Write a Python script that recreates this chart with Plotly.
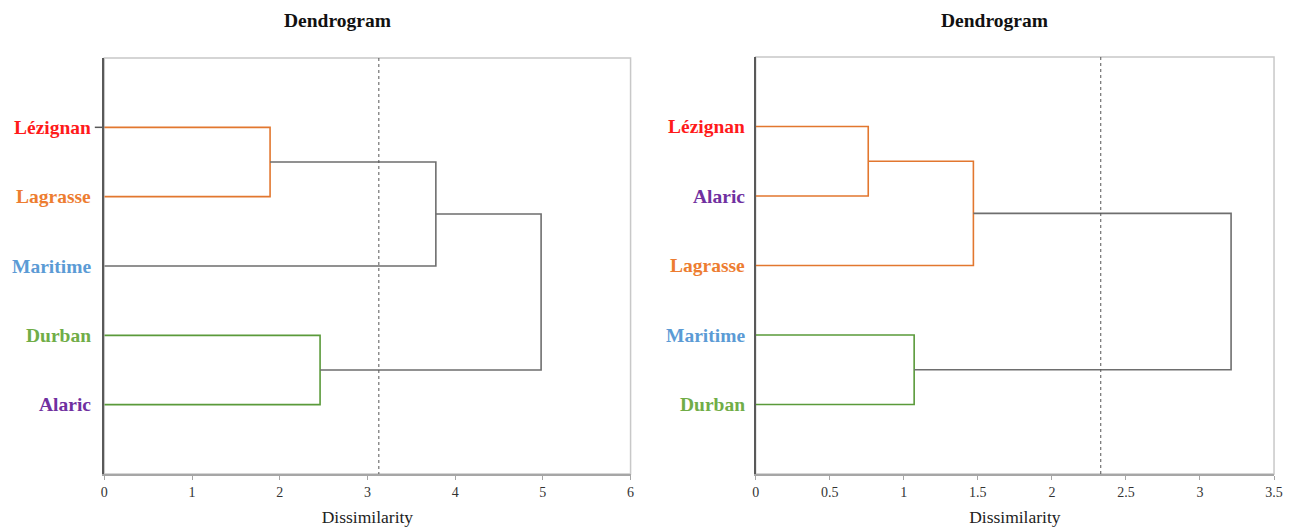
import plotly.graph_objects as go

# ---- data -------------------------------------------------------------
# Left dendrogram: leaf order (top to bottom) and merges (node_a, node_b, height, colour key)
left_leaves = ["Lézignan", "Lagrasse", "Maritime", "Durban", "Alaric"]
left_merges = [
    (0, 1, 1.89, "orange"),
    (3, 4, 2.46, "green"),
    (5, 2, 3.78, "grey"),
    (6, 7, 4.98, "grey"),
]
left_cut = 3.13
left_ticks = [0, 1, 2, 3, 4, 5, 6]

# Right dendrogram
right_leaves = ["Lézignan", "Alaric", "Lagrasse", "Maritime", "Durban"]
right_merges = [
    (0, 1, 0.76, "orange"),
    (3, 4, 1.07, "green"),
    (5, 2, 1.47, "orange"),
    (7, 6, 3.21, "grey"),
]
right_cut = 2.33
right_ticks = [0, 0.5, 1, 1.5, 2, 2.5, 3, 3.5]
right_ticklabels = ["0", "0.5", "1", "1.5", "2", "2.5", "3", "3.5"]

leaf_colors = {
    "Lézignan": "#FF1A1A",
    "Lagrasse": "#ED7D31",
    "Maritime": "#5B9BD5",
    "Durban": "#70AD47",
    "Alaric": "#7030A0",
}
link_colors = {"orange": "#E2772F", "green": "#5A9A3A", "grey": "#6E6E6E"}

W, H = 1302, 527
SX = 1.003  # small horizontal correction for the page width
SERIF = "Liberation Serif, Times New Roman, serif"

fig = go.Figure()


def add_dendrogram(leaves, merges, xa, ya):
    # node position: (x = height, y = row); leaves sit at rows 1..n
    pos = {i: (0.0, i + 1) for i in range(len(leaves))}
    nid = len(leaves)
    for a, b, h, ck in merges:
        xa_, ya_ = pos[a]
        xb_, yb_ = pos[b]
        fig.add_trace(go.Scatter(
            x=[xa_, h, h, xb_], y=[ya_, ya_, yb_, yb_],
            mode="lines", line=dict(color=link_colors[ck], width=1.6),
            xaxis=xa, yaxis=ya, showlegend=False, hoverinfo="skip",
        ))
        pos[nid] = (h, (ya_ + yb_) / 2)
        nid += 1


add_dendrogram(left_leaves, left_merges, "x", "y")
add_dendrogram(right_leaves, right_merges, "x2", "y2")

# cut lines
for cut, xa, ya, n in [(left_cut, "x", "y", len(left_leaves)),
                       (right_cut, "x2", "y2", len(right_leaves))]:
    fig.add_trace(go.Scatter(
        x=[cut, cut], y=[0, n + 1], mode="lines",
        line=dict(color="#555555", width=1, dash="dot"),
        xaxis=xa, yaxis=ya, showlegend=False, hoverinfo="skip",
    ))

# ---- layout -------------------------------------------------------------
def px(x):
    return x * SX / W


def py(y):
    return 1 - y / H


box_l = (101, 631, 58, 474)
box_r = (757, 1279, 57, 474)

axis_common = dict(
    showgrid=False, zeroline=False, showline=True, linecolor="#A6A6A6",
    linewidth=1.5, ticks="outside", ticklen=4, tickcolor="#A6A6A6",
    tickfont=dict(family=SERIF, size=14, color="#333333"),
    title=dict(text="Dissimilarity", font=dict(family=SERIF, size=17.5, color="#222"),
               standoff=12),
    mirror=False,
)
yaxis_common = dict(
    showgrid=False, zeroline=False, showline=True, linecolor="#595959",
    linewidth=1.8, showticklabels=False, ticks="", range=[6, 0],
)

fig.update_layout(
    width=W, height=H, margin=dict(l=0, r=0, t=0, b=0),
    paper_bgcolor="white", plot_bgcolor="white", showlegend=False,
    xaxis=dict(axis_common, domain=[px(box_l[0]), px(box_l[1])], range=[0, 6],
               tickvals=left_ticks, anchor="y"),
    yaxis=dict(yaxis_common, domain=[py(box_l[3]), py(box_l[2])], anchor="x"),
    xaxis2=dict(axis_common, domain=[px(box_r[0]), px(box_r[1])], range=[0, 3.5],
                tickvals=right_ticks, ticktext=right_ticklabels, anchor="y2"),
    yaxis2=dict(yaxis_common, domain=[py(box_r[3]), py(box_r[2])], anchor="x2"),
)

shapes = []
annotations = []
panels = [("x domain", "y domain", box_l, left_leaves, "", 336, 90),
          ("x2 domain", "y2 domain", box_r, right_leaves, "2", 998, 748)]
for xd, yd, box, leaves, suffix, title_x, label_x in panels:
    # light frame around plot area
    shapes.append(dict(type="rect", xref=xd, yref=yd, x0=0, x1=1, y0=0, y1=1,
                       line=dict(color="#C8C8C8", width=1.5), layer="below"))
    # title
    annotations.append(dict(
        text="<b>Dendrogram</b>", xref="paper", yref="paper",
        x=px(title_x), y=py(21), showarrow=False,
        font=dict(family=SERIF, size=19.5, color="#111"), xanchor="center", yanchor="middle",
    ))
    # leaf labels
    for i, name in enumerate(leaves):
        annotations.append(dict(
            text=f"<b>{name}</b>", xref="paper", yref="y" + suffix,
            x=px(label_x), y=i + 1, showarrow=False, xanchor="right", yanchor="middle",
            font=dict(family=SERIF, size=19.5, color=leaf_colors[name]),
        ))

# small stub on the first leaf of the left axis
shapes.append(dict(type="line", xref="x domain", yref="y", x0=-0.018, x1=0, y0=1, y1=1,
                   line=dict(color="#595959", width=1.5)))

fig.update_layout(shapes=shapes, annotations=annotations)

fig.write_html("out.html")
